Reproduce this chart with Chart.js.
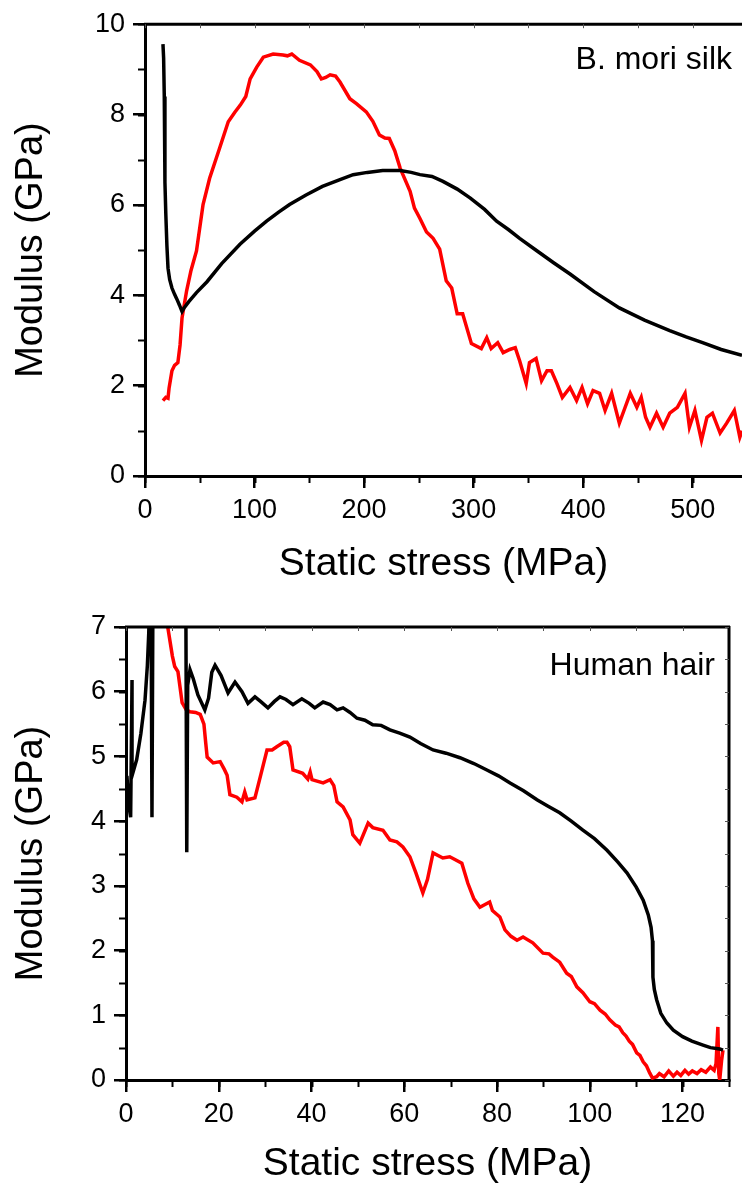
<!DOCTYPE html>
<html>
<head>
<meta charset="utf-8">
<script src="https://cdn.jsdelivr.net/npm/chart.js@4.4.1/dist/chart.umd.min.js"></script>
<style>
  html, body { margin: 0; padding: 0; background: #fff; }
  #wrap { position: relative; width: 742px; height: 1189px; overflow: hidden; }
  canvas { position: absolute; left: 0; }
  #silk { top: 0; }
  #hair { top: 600px; }
</style>
</head>
<body>
<div id="wrap">
  <canvas id="silk" width="742" height="600"></canvas>
  <canvas id="hair" width="742" height="589"></canvas>
</div>
<script>
// ---- data: [static stress (MPa), modulus (GPa)] ----
const silkBlack = [
  [16.4, 9.56], [17.0, 9.25], [17.6, 8.4], [18.2, 6.5], [19.0, 5.8], [20.0, 5.1],
  [21.0, 4.6], [22.5, 4.35], [24.6, 4.16], [27.0, 4.02], [29.0, 3.92], [31.5, 3.78],
  [33.8, 3.64], [36, 3.73], [40, 3.86], [47, 4.06], [56.6, 4.3], [70, 4.7],
  [86.7, 5.13], [100, 5.42], [111, 5.64], [122, 5.84], [132, 6.01], [147, 6.22],
  [162, 6.41], [178, 6.56], [190, 6.67], [203, 6.72], [217, 6.76], [233, 6.76],
  [243, 6.72], [251, 6.67], [262, 6.63], [272, 6.52], [285, 6.35], [297, 6.15],
  [310, 5.9], [321, 5.64], [332, 5.45], [342, 5.26], [358, 4.98], [373, 4.72],
  [388, 4.47], [410, 4.08], [433, 3.72], [456, 3.45], [479, 3.22], [494, 3.08],
  [509, 2.95], [526, 2.8], [545, 2.67]
];
const silkRed = [
  [16.4, 1.67], [19, 1.74], [21, 1.72], [22, 1.95], [24.6, 2.33], [27, 2.45],
  [30, 2.51], [32, 2.9], [33.8, 3.5], [38, 4.1], [42, 4.55], [47, 4.98],
  [53, 6.01], [59, 6.59], [68, 7.25], [76, 7.84], [82, 8.05], [87, 8.21],
  [92, 8.4], [96, 8.79], [102, 9.05], [108, 9.27], [117, 9.34], [126, 9.32],
  [130, 9.3], [134, 9.34], [141, 9.2], [151, 9.1], [157, 8.95], [161, 8.79],
  [165, 8.82], [169, 8.88], [174, 8.85], [178, 8.72], [187, 8.35], [193, 8.24],
  [202, 8.06], [208, 7.85], [214, 7.55], [219, 7.48], [223, 7.47], [228, 7.2],
  [233, 6.81], [242, 6.3], [246, 5.93], [251, 5.7], [257, 5.4], [263, 5.26],
  [269, 5.02], [275, 4.32], [280, 4.16], [285, 3.59], [290, 3.59], [298, 2.93],
  [307, 2.82], [312, 3.06], [316, 2.82], [322, 2.95], [327, 2.73], [333, 2.8],
  [338, 2.84], [342, 2.55], [348, 2.05], [351, 2.51], [357, 2.6], [362, 2.11],
  [367, 2.33], [371, 2.33], [376, 2.05], [381, 1.74], [388, 1.96], [394, 1.67],
  [399, 1.96], [404, 1.6], [409, 1.89], [415, 1.83], [420, 1.45], [426, 1.83],
  [433, 1.17], [438, 1.5], [443, 1.83], [449, 1.52], [453, 1.74], [457, 1.3],
  [461, 1.08], [467, 1.39], [473, 1.08], [479, 1.39], [486, 1.52], [493, 1.83],
  [497, 1.08], [502, 1.45], [508, 0.79], [513, 1.3], [518, 1.39], [525, 0.95],
  [531, 1.17], [538, 1.45], [543, 0.86], [545, 1.0]
];
const hairBlack = [
  [0.2, 4.7], [0.6, 4.25], [1.0, 4.06], [1.3, 6.18], [1.3, 4.7], [2.3, 4.95],
  [3.2, 5.35], [4.1, 5.87], [4.6, 6.4], [4.9, 6.9], [5.1, 7.4], [5.4, 7.4],
  [5.6, 4.06], [5.8, 7.4], [12.9, 7.4], [13.1, 3.52], [13.3, 6.1], [13.8, 6.34],
  [14.5, 6.2], [15.5, 5.95], [17, 5.72], [17.8, 5.9], [18.5, 6.3], [19.2, 6.41],
  [20.5, 6.25], [22, 5.98], [23.5, 6.15], [25, 6.0], [26.3, 5.82], [27.8, 5.92],
  [29, 5.85], [30.6, 5.75], [32, 5.85], [33.2, 5.92], [34.5, 5.88], [36, 5.8],
  [37.9, 5.89], [39.5, 5.82], [40.7, 5.75], [42.5, 5.84], [44, 5.8], [45.5, 5.72],
  [46.8, 5.75], [48.3, 5.68], [49.8, 5.59], [51.5, 5.56], [53.2, 5.49], [55, 5.48],
  [56.9, 5.41], [59, 5.36], [61.2, 5.3], [63.5, 5.2], [66.2, 5.1], [69, 5.05],
  [72, 4.98], [75, 4.89], [77.8, 4.79], [80.3, 4.7], [82.8, 4.59], [85.7, 4.47],
  [88.6, 4.33], [91, 4.23], [93.5, 4.13], [96, 4.0], [98.5, 3.86], [101, 3.73],
  [103.7, 3.55], [106, 3.37], [108, 3.2], [110, 2.98], [111.5, 2.78], [112.6, 2.55],
  [113.2, 2.36], [113.5, 2.15], [113.6, 2.0], [113.6, 1.59], [113.9, 1.4], [114.4, 1.24],
  [115.3, 1.03], [116.6, 0.88], [118, 0.77], [120, 0.67], [122, 0.6], [124.4, 0.54],
  [126, 0.5], [128, 0.48], [128.7, 0.46]
];
const hairRed = [
  [8.5, 7.5], [9, 7.0], [10, 6.55], [10.5, 6.39], [11.2, 6.31], [12.1, 5.83],
  [13, 5.72], [13.8, 5.69], [15, 5.68], [16, 5.65], [16.8, 5.5], [17.2, 5.2],
  [17.5, 4.99], [18.8, 4.9], [20.3, 4.92], [21.2, 4.8], [21.8, 4.71], [22.4, 4.41],
  [23.9, 4.37], [25, 4.3], [25.6, 4.45], [26.1, 4.33], [27.8, 4.36], [29, 4.7],
  [30.4, 5.1], [31.5, 5.1], [32.5, 5.15], [34.0, 5.22], [34.7, 5.22], [35.3, 5.15],
  [36, 4.79], [38.1, 4.74], [39.2, 4.65], [39.7, 4.76], [40.1, 4.64], [42.5, 4.59],
  [44, 4.64], [44.8, 4.55], [45.5, 4.3], [46.8, 4.22], [48.3, 4.02], [48.9, 3.79],
  [50.4, 3.66], [52.2, 3.97], [53.2, 3.9], [55.4, 3.86], [56.9, 3.71], [58.4, 3.68],
  [59.7, 3.6], [61.2, 3.45], [62.5, 3.2], [64, 2.89], [65, 3.1], [66.2, 3.51],
  [68.3, 3.43], [69.8, 3.45], [72.4, 3.35], [73.7, 3.04], [75, 2.8], [76.3, 2.67],
  [78.4, 2.75], [79, 2.62], [80.6, 2.52], [81.7, 2.32], [83, 2.22], [84.3, 2.16],
  [85.6, 2.21], [87.7, 2.12], [89.9, 1.96], [91.2, 1.95], [92, 1.9], [93.5, 1.82],
  [95, 1.65], [96, 1.6], [97.2, 1.44], [98.5, 1.35], [100, 1.21], [101, 1.18],
  [102.2, 1.08], [103.3, 1.02], [104.3, 0.93], [105.5, 0.85], [106.3, 0.82], [107.1, 0.73],
  [107.8, 0.68], [108.5, 0.6], [109.2, 0.55], [110.1, 0.42], [110.8, 0.38], [111.5, 0.28],
  [112.2, 0.22], [112.9, 0.11], [113.5, 0.03], [114.4, 0.05], [115, 0.1], [116, 0.05],
  [117, 0.14], [118, 0.06], [118.8, 0.12], [119.6, 0.07], [120.5, 0.15], [121.3, 0.09],
  [122.1, 0.14], [123.1, 0.1], [124, 0.16], [125, 0.12], [126, 0.2], [126.8, 0.15],
  [127.2, 0.25], [127.6, 0.82], [127.8, 0.1], [128, 0.0], [128.4, 0.3], [128.7, 0.46]
];

const silkXTicks = [0, 100, 200, 300, 400, 500];
const silkYTicks = [0, 2, 4, 6, 8, 10];
const hairXTicks = [0, 20, 40, 60, 80, 100, 120];
const hairYTicks = [0, 1, 2, 3, 4, 5, 6, 7];

const FONT = "'Liberation Sans', Arial, sans-serif";

function toPoints(arr) {
  return arr.map(p => ({ x: p[0], y: p[1] }));
}

// minor ticks + the frame on the top (and right) edge, drawn off the chart's scales
const frameTicks = {
  id: 'frameTicks',
  afterDraw(chart, args, opts) {
    const { ctx, chartArea: a } = chart;
    const xs = chart.scales.x, ys = chart.scales.y;
    ctx.save();
    ctx.strokeStyle = '#000';
    ctx.lineCap = 'butt';
    // minor ticks, outward
    ctx.lineWidth = 2;
    for (let v = xs.min; v <= xs.max + 1e-9; v += opts.xMinor) {
      const px = Math.round(xs.getPixelForValue(v)) + 0.5;
      ctx.beginPath(); ctx.moveTo(px, a.bottom); ctx.lineTo(px, a.bottom + 7); ctx.stroke();
    }
    for (let v = ys.min; v <= ys.max + 1e-9; v += opts.yMinor) {
      const py = Math.round(ys.getPixelForValue(v)) + 0.5;
      ctx.beginPath(); ctx.moveTo(a.left, py); ctx.lineTo(a.left - 7, py); ctx.stroke();
    }
    // top frame
    ctx.lineWidth = 3;
    ctx.beginPath(); ctx.moveTo(a.left - 1, a.top); ctx.lineTo(a.right + 1, a.top); ctx.stroke();
    ctx.lineWidth = 1;
    ctx.strokeStyle = '#555';
    for (let v = xs.min; v <= xs.max + 1e-9; v += opts.xMinor) {
      const px = Math.round(xs.getPixelForValue(v)) + 0.5;
      ctx.beginPath(); ctx.moveTo(px, a.top); ctx.lineTo(px, a.top + 4); ctx.stroke();
    }
    if (opts.right) {
      ctx.strokeStyle = '#000';
      ctx.lineWidth = 3;
      ctx.beginPath(); ctx.moveTo(a.right, a.top - 1); ctx.lineTo(a.right, a.bottom + 1); ctx.stroke();
      ctx.lineWidth = 1;
      ctx.strokeStyle = '#555';
      for (let v = ys.min; v <= ys.max + 1e-9; v += opts.yMinor) {
        const py = Math.round(ys.getPixelForValue(v)) + 0.5;
        ctx.beginPath(); ctx.moveTo(a.right, py); ctx.lineTo(a.right - 4, py); ctx.stroke();
      }
    }
    // panel label
    ctx.fillStyle = '#000';
    ctx.font = '32px ' + FONT;
    ctx.textAlign = 'right';
    ctx.textBaseline = 'alphabetic';
    ctx.fillText(opts.label, a.right - opts.labelDx, a.top + opts.labelDy);
    ctx.restore();
  }
};

function makeChart(id, cfg) {
  const ctx = document.getElementById(id).getContext('2d');
  return new Chart(ctx, {
    type: 'line',
    data: {
      datasets: [
        { data: toPoints(cfg.black), borderColor: '#000', borderWidth: 3.5, pointRadius: 0, tension: 0, clip: 0 },
        { data: toPoints(cfg.red), borderColor: '#ff0000', borderWidth: 3.5, pointRadius: 0, tension: 0, clip: 0 }
      ]
    },
    options: {
      responsive: false,
      animation: false,
      devicePixelRatio: 1,
      layout: { padding: cfg.padding },
      plugins: {
        legend: { display: false },
        tooltip: { enabled: false },
        frameTicks: {
          xMinor: cfg.xMinor, yMinor: cfg.yMinor, right: cfg.right,
          label: cfg.label, labelDx: cfg.labelDx, labelDy: cfg.labelDy
        }
      },
      scales: {
        x: {
          type: 'linear',
          min: cfg.xMin, max: cfg.xMax,
          afterFit: s => { s.height = cfg.xHeight; },
          afterBuildTicks: s => { s.ticks = cfg.xTicks.map(v => ({ value: v })); },
          border: { display: true, color: '#000', width: 3 },
          grid: { drawOnChartArea: false, drawTicks: true, tickLength: 12, lineWidth: 2.5, color: '#000' },
          ticks: { color: '#000', padding: 6, maxRotation: 0, font: { family: FONT, size: 27 } },
          title: { display: true, text: 'Static stress (MPa)', color: '#000',
                   font: { family: FONT, size: 39 }, padding: { top: 0, bottom: cfg.xTitlePad } }
        },
        y: {
          type: 'linear',
          min: cfg.yMin, max: cfg.yMax,
          afterFit: s => { s.width = cfg.yWidth; },
          afterBuildTicks: s => { s.ticks = cfg.yTicks.map(v => ({ value: v })); },
          border: { display: true, color: '#000', width: 3 },
          grid: { drawOnChartArea: false, drawTicks: true, tickLength: 12, lineWidth: 2.5, color: '#000' },
          ticks: { color: '#000', padding: 8, font: { family: FONT, size: 27 } },
          title: { display: true, text: 'Modulus (GPa)', color: '#000',
                   font: { family: FONT, size: 38 }, padding: { top: 9, bottom: 0 } }
        }
      }
    },
    plugins: [frameTicks]
  });
}

makeChart('silk', {
  black: silkBlack, red: silkRed,
  xMin: 0, xMax: 545, yMin: 0, yMax: 10,
  xTicks: silkXTicks, yTicks: silkYTicks,
  xMinor: 50, yMinor: 1, right: false,
  padding: { top: 22, right: 0, bottom: 0, left: 0 },
  yWidth: 145, xHeight: 124, xTitlePad: 12,
  label: 'B. mori silk', labelDx: 10, labelDy: 45
});

makeChart('hair', {
  black: hairBlack, red: hairRed,
  xMin: 0, xMax: 130, yMin: 0, yMax: 7,
  xTicks: hairXTicks, yTicks: hairYTicks,
  xMinor: 10, yMinor: 0.5, right: true,
  padding: { top: 27, right: 13, bottom: 0, left: 0 },
  yWidth: 126, xHeight: 109, xTitlePad: 1,
  label: 'Human hair', labelDx: 14, labelDy: 48
});
</script>
</body>
</html>
